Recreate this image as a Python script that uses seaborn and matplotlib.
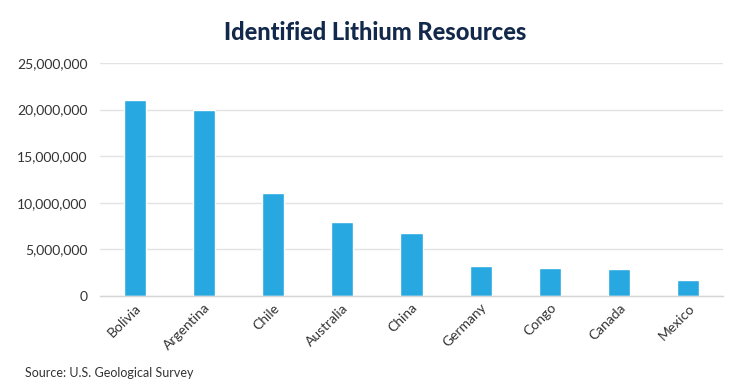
import matplotlib
matplotlib.use("Agg")
import matplotlib.pyplot as plt
import matplotlib.ticker as mticker
import seaborn as sns
import pandas as pd

countries = ["Bolivia", "Argentina", "Chile", "Australia", "China",
             "Germany", "Congo", "Canada", "Mexico"]
resources = [21000000, 20000000, 11000000, 7900000, 6800000,
             3200000, 3000000, 2900000, 1700000]
y_ticks = [0, 5000000, 10000000, 15000000, 20000000, 25000000]

sns.set_theme(style="white")
plt.rcParams['font.family'] = ['Lato', 'DejaVu Sans']

df = pd.DataFrame({"country": countries, "value": resources})

fig = plt.figure(figsize=(7.53, 3.91), dpi=100)
ax = fig.add_axes([100/753, 1-296/391, 623/753, 233/391])

sns.barplot(data=df, x="country", y="value", color="#27a8e0",
            width=0.32, saturation=1, ax=ax)

ax.set_ylim(0, 25000000)
ax.set_xlim(-0.5, len(countries) - 0.5)
ax.set_yticks(y_ticks)
ax.yaxis.set_major_formatter(mticker.FuncFormatter(lambda v, p: f"{int(v):,}"))
ax.grid(axis="y", color="#e3e3e3", linewidth=1)
ax.set_axisbelow(True)
for s in ["top", "right", "left"]:
    ax.spines[s].set_visible(False)
ax.spines["bottom"].set_color("#d6d6d6")
ax.spines["bottom"].set_linewidth(1)
ax.set_xlabel("")
ax.set_ylabel("")
ax.tick_params(axis="y", length=0, pad=9, labelsize=10, labelcolor="#333333")
ax.tick_params(axis="x", length=0, pad=4, labelsize=10, labelcolor="#333333")
for lbl in ax.get_xticklabels():
    lbl.set_rotation(45)
    lbl.set_ha("right")
    lbl.set_rotation_mode("anchor")

fig.text(375/753, 1-33/391, "Identified Lithium Resources", ha="center", va="center",
         fontsize=17, fontweight="black", color="#13294b")
fig.text(25/753, 1-373/391, "Source: U.S. Geological Survey", ha="left", va="center",
         fontsize=9, color="#333333")

fig.savefig("out.png", dpi=100)
